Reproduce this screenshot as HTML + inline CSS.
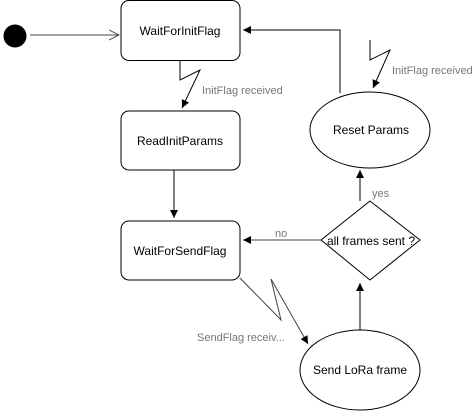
<!DOCTYPE html>
<html><head><style>body{margin:0;background:#fff}svg{display:block}</style></head><body>
<svg width="472" height="411" viewBox="0 0 472 411" xmlns="http://www.w3.org/2000/svg" font-family="Liberation Sans, sans-serif">
<defs>
<marker id="a" markerWidth="10" markerHeight="10" refX="8" refY="5" orient="auto" markerUnits="userSpaceOnUse"><path d="M0,1 L8,5 L0,9 Z" fill="#000"/></marker>
<marker id="o" markerWidth="12" markerHeight="12" refX="10" refY="6" orient="auto" markerUnits="userSpaceOnUse"><path d="M0,1 L10,6 L0,11" fill="none" stroke="#555"/></marker>
</defs>
<g stroke="#000" fill="none" stroke-width="1">
<circle cx="15" cy="36" r="11" fill="#000"/>
<line x1="30" y1="35" x2="119" y2="35" stroke="#444" marker-end="url(#o)"/>
<rect x="121" y="0.5" width="119" height="60" rx="8"/>
<rect x="121" y="111" width="119" height="59" rx="8"/>
<rect x="121" y="221" width="119" height="59" rx="8"/>
<ellipse cx="370" cy="130" rx="60" ry="38"/>
<ellipse cx="360" cy="370" rx="60" ry="40"/>
<polygon points="370,201 420,240 370,280 321,240"/>
<polyline points="180,60 180,80 200,70 182,108" marker-end="url(#a)"/>
<line x1="174" y1="170" x2="174" y2="218" marker-end="url(#a)"/>
<line x1="321" y1="240" x2="243" y2="240" stroke="#444" marker-end="url(#a)"/>
<line x1="360" y1="330" x2="360" y2="283" marker-end="url(#a)"/>
<line x1="360" y1="201" x2="360" y2="170" marker-end="url(#a)"/>
<polyline points="340,93 340,30 243,30" marker-end="url(#a)"/>
<polyline points="370,40 370,60 390,50 373,88" marker-end="url(#a)"/>
<polyline points="240,278 281,320 271,279 308,344" stroke="#444" marker-end="url(#a)"/>
</g>
<g font-size="12" text-anchor="middle" fill="#000">
<text x="180" y="35">WaitForInitFlag</text>
<text x="180" y="145">ReadInitParams</text>
<text x="180" y="255">WaitForSendFlag</text>
<text x="371" y="134">Reset Params</text>
<text x="360" y="374">Send LoRa frame</text>
<text x="371" y="245">all frames sent ?</text>
</g>
<g font-size="11" fill="#777">
<text x="202" y="94">InitFlag received</text>
<text x="392" y="74">InitFlag received</text>
<text x="197" y="341">SendFlag receiv...</text>
<text x="275" y="237">no</text>
<text x="372" y="197">yes</text>
</g>
</svg>
</body></html>
